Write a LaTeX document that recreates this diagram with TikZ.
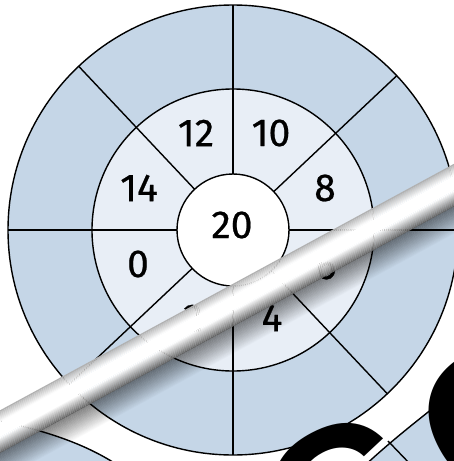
\documentclass[tikz,border=0pt]{standalone}
\usepackage{fontspec}
\usetikzlibrary{calc}
\setmainfont{Fira Sans}
\newfontfamily\numfont{Fira Sans}[FakeBold=0.6]
\newfontfamily\bigfont{Liberation Sans}
\definecolor{outerblue}{RGB}{197,214,231}
\definecolor{innerblue}{RGB}{232,238,246}
\tikzset{
  ringline/.style={draw=black, line width=1.4pt},
  numlabel/.style={font=\numfont\fontsize{39}{39}\selectfont, inner sep=0pt},
  bigletter/.style={font=\bigfont\bfseries\fontsize{200}{200}\selectfont, rotate=27.8, anchor=base west, inner sep=0pt},
}
\begin{document}
\begin{tikzpicture}[x=1pt,y=-1pt]
\useasboundingbox (0,0) rectangle (454,461);
\clip (0,0) rectangle (454,461);
\fill[white] (0,0) rectangle (454,461);
% fragments of the page underneath
\fill[outerblue] (-10,419) .. controls (50,431) and (90,446) .. (122,468) -- (-10,468) -- cycle;
\draw[ringline] (-10,419) .. controls (50,431) and (90,446) .. (122,468);
\fill[outerblue] (470,378) .. controls (440,404) and (400,432) .. (360,470) -- (470,470) -- cycle;
\draw[ringline] (470,378) .. controls (440,404) and (400,432) .. (360,470);
\coordinate (q1) at (388,441);
\coordinate (q2) at (412,466);
\draw[ringline] (q1) -- (q2);
% main diagram
\coordinate (O) at (233,230);
\fill[outerblue] (O) circle (225);
\fill[innerblue] (O) circle (141);
\fill[white] (O) circle (56);
\foreach \a in {0,-43.3,-90,-133.3,180,136.7,90,46.7}{
  \draw[ringline] ($(O)+(\a:56)$) -- ($(O)+(\a:225)$);
}
\draw[ringline] (O) circle (225);
\draw[ringline] (O) circle (141);
\draw[ringline] (O) circle (56);
\node[numlabel] (n12) at (196,133) {12};
\node[numlabel] (n10) at (271,133) {10};
\node[numlabel] (n14) at (139,188) {14};
\node[numlabel] (n8) at (325,188) {8};
\node[numlabel] (n20) at (232,225) {20};
\node[numlabel] (n0) at (138,264) {0};
\node[numlabel] (n6) at (326,266) {6};
\node[numlabel] (n2) at (193,318) {2};
\node[numlabel] (n4) at (272,318) {4};
% big letters of the page underneath
\node[bigletter] (bigC) at (309,593) {C};
\node[bigletter] (bigO) at (464,514) {O};
% the curled band
\begin{scope}[shift={(0,412)}, rotate=28.5]
  \fill[black!30] (-30,-1.5) rectangle (600,0);
  \foreach \i in {0,...,8}{
    \pgfmathtruncatemacro\p{25-3*\i}
    \fill[black!\p] (-30,\i) rectangle (600,{\i+1.05});
  }
  \fill[white] (-30,9) rectangle (600,22);
  \foreach \i in {0,...,13}{
    \pgfmathtruncatemacro\p{4.5*\i}
    \fill[black!\p] (-30,{22+\i}) rectangle (600,{23.05+\i});
  }
  \foreach \i in {0,...,23}{
    \pgfmathsetmacro\o{0.45*(1-\i/24)}
    \fill[black, opacity=\o] (-30,{36+\i}) rectangle (600,{37+\i});
  }
\end{scope}
\end{tikzpicture}
\end{document}
